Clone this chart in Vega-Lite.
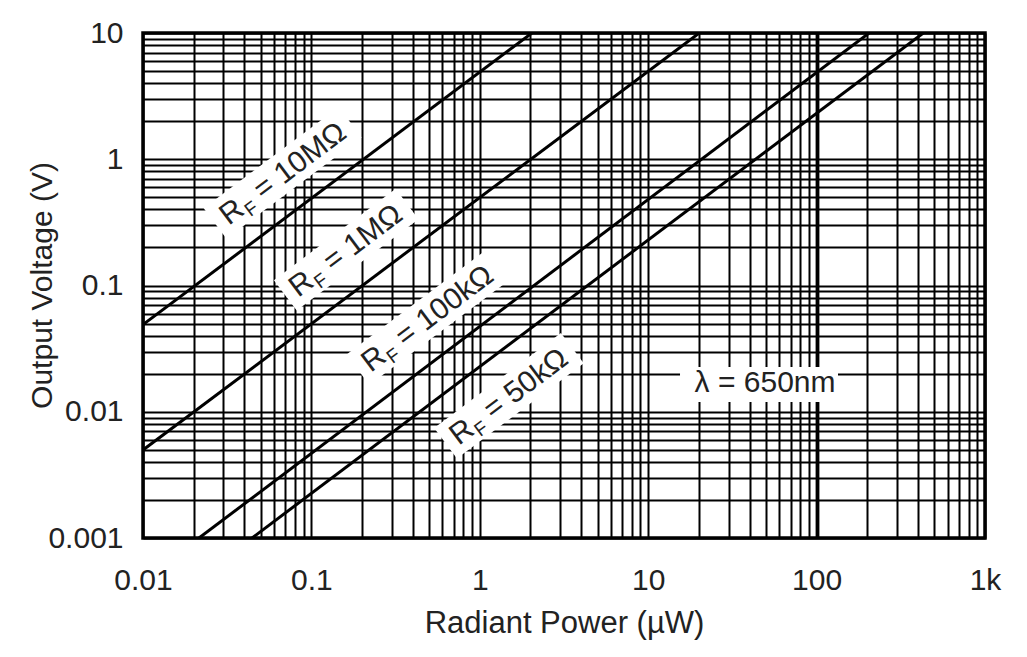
{
  "$schema": "https://vega.github.io/schema/vega-lite/v6.json",
  "width": 842,
  "height": 505,
  "autosize": {"type": "none"},
  "padding": {"left": 143, "top": 33, "right": 42, "bottom": 119},
  "background": "white",
  "config": {"view": {"stroke": "black", "strokeWidth": 3.5}, "font": "Liberation Sans"},
  "datasets": {
    "series": [
      {"s": "10M", "p": 0.01, "v": 0.049},
      {"s": "10M", "p": 2.04, "v": 10},
      {"s": "1M", "p": 0.01, "v": 0.00498},
      {"s": "1M", "p": 20.1, "v": 10},
      {"s": "100k", "p": 0.0215, "v": 0.001},
      {"s": "100k", "p": 205, "v": 10},
      {"s": "50k", "p": 0.0444, "v": 0.001},
      {"s": "50k", "p": 430, "v": 10}
    ],
    "bands": [
      {"p": 0.0268, "v": 0.31, "p2": 0.170, "v2": 1.965},
      {"p": 0.070, "v": 0.0835, "p2": 0.370, "v2": 0.442},
      {"p": 0.189, "v": 0.0215, "p2": 1.249, "v2": 0.1419},
      {"p": 0.626, "v": 0.00563, "p2": 3.544, "v2": 0.0319}
    ],
    "labels": [
      {"p": 0.0409, "v": 0.375, "rest": "= 10MΩ"},
      {"p": 0.106, "v": 0.101, "rest": "= 1MΩ"},
      {"p": 0.285, "v": 0.0257, "rest": "= 100kΩ"},
      {"p": 0.949, "v": 0.00679, "rest": "= 50kΩ"}
    ],
    "notebox": [{"p": 15.45, "v": 0.01196, "p2": 134, "v2": 0.0226}],
    "notetext": [{"p": 49.4, "v": 0.01689, "t": "λ = 650nm"}]
  },
  "encoding": {
    "x": {
      "field": "p",
      "type": "quantitative",
      "scale": {"type": "log", "domain": [0.01, 1000], "nice": false},
      "axis": {
        "values": [0.01,0.02,0.03,0.04,0.05,0.06,0.07,0.08,0.09,0.1,0.2,0.3,0.4,0.5,0.6,0.7,0.8,0.9,1,2,3,4,5,6,7,8,9,10,20,30,40,50,60,70,80,90,100,200,300,400,500,600,700,800,900,1000],
        "labelExpr": "indexof([0.01,0.1,1,10,100], datum.value) >= 0 ? format(datum.value, '~g') : (datum.value == 1000 ? '1k' : '')",
        "title": "Radiant Power (µW)",
        "grid": true,
        "gridColor": "black",
        "gridOpacity": 1,
        "gridWidth": {"condition": {"test": "datum.value == 100", "value": 3.8}, "value": 2},
        "ticks": false,
        "domain": false,
        "labelFont": "Liberation Sans",
        "labelFontSize": 30,
        "labelColor": "#222",
        "labelPadding": 27,
        "labelOverlap": false,
        "labelFlush": false,
        "labelBound": false,
        "titleFont": "Liberation Sans",
        "titleFontSize": 31,
        "titleFontWeight": "normal",
        "titleColor": "#222",
        "titleY": 85,
        "titleBaseline": "middle"
      }
    },
    "y": {
      "field": "v",
      "type": "quantitative",
      "scale": {"type": "log", "domain": [0.001, 10], "nice": false},
      "axis": {
        "values": [0.001,0.002,0.003,0.004,0.005,0.006,0.007,0.008,0.009,0.01,0.02,0.03,0.04,0.05,0.06,0.07,0.08,0.09,0.1,0.2,0.3,0.4,0.5,0.6,0.7,0.8,0.9,1,2,3,4,5,6,7,8,9,10],
        "labelExpr": "indexof([0.001,0.01,0.1,1,10], datum.value) >= 0 ? format(datum.value, '~g') : ''",
        "title": "Output Voltage (V)",
        "grid": true,
        "gridColor": "black",
        "gridOpacity": 1,
        "gridWidth": 2,
        "ticks": false,
        "domain": false,
        "labelFont": "Liberation Sans",
        "labelFontSize": 30,
        "labelColor": "#222",
        "labelPadding": 20,
        "labelOverlap": false,
        "labelFlush": false,
        "labelBound": false,
        "titleFont": "Liberation Sans",
        "titleFontSize": 30,
        "titleFontWeight": "normal",
        "titleColor": "#222",
        "titleX": -101,
        "titleY": 252,
        "titleAngle": -90,
        "titleAlign": "center",
        "titleBaseline": "middle"
      }
    }
  },
  "layer": [
    {
      "data": {"name": "bands"},
      "mark": {"type": "rule", "color": "white", "strokeWidth": 38, "strokeCap": "butt"},
      "encoding": {"x2": {"field": "p2"}, "y2": {"field": "v2"}}
    },
    {
      "data": {"name": "notebox"},
      "mark": {"type": "rect", "color": "white"},
      "encoding": {"x2": {"field": "p2"}, "y2": {"field": "v2"}}
    },
    {
      "data": {"name": "series"},
      "mark": {"type": "line", "color": "black", "strokeWidth": 3, "clip": true},
      "encoding": {"detail": {"field": "s"}}
    },
    {
      "data": {"name": "labels"},
      "mark": {"type": "text", "text": "R", "angle": -36.9, "align": "right", "baseline": "alphabetic", "fontSize": 30, "color": "#222", "font": "Liberation Sans"}
    },
    {
      "data": {"name": "labels"},
      "mark": {"type": "text", "text": "F", "angle": -36.9, "align": "left", "baseline": "alphabetic", "dx": 1, "dy": 6, "fontSize": 19, "color": "#222", "font": "Liberation Sans"}
    },
    {
      "data": {"name": "labels"},
      "mark": {"type": "text", "angle": -36.9, "align": "left", "baseline": "alphabetic", "dx": 21, "fontSize": 30, "color": "#222", "font": "Liberation Sans"},
      "encoding": {"text": {"field": "rest"}}
    },
    {
      "data": {"name": "notetext"},
      "mark": {"type": "text", "align": "center", "baseline": "middle", "fontSize": 30, "color": "#222", "font": "Liberation Sans"},
      "encoding": {"text": {"field": "t"}}
    }
  ]
}
